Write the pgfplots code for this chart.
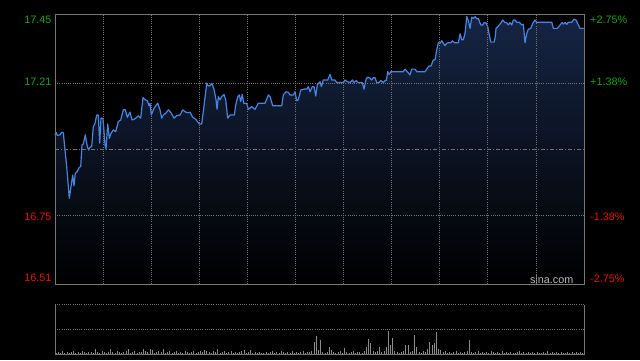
\documentclass[border=0pt]{standalone}
\usepackage{pgfplots}
\pgfplotsset{compat=1.18}
\usepackage{pgfplotstable}
\usepgfplotslibrary{fillbetween}
\usepackage{fontspec}
\setmainfont{Liberation Sans}
\definecolor{bordergray}{RGB}{120,120,120}
\definecolor{gridgray}{RGB}{115,115,115}
\definecolor{lineblue}{RGB}{72,132,228}
\definecolor{filltop}{RGB}{22,37,68}
\definecolor{upgreen}{RGB}{20,165,20}
\definecolor{downred}{RGB}{228,18,10}
\definecolor{volgray}{RGB}{140,140,140}
\definecolor{sinagray}{RGB}{185,185,185}

\pgfplotstableread{
m p
0 17.030
0.46 17.039
1.05 17.028
2.29 17.030
3.07 17.039
3.80 17.038
4.58 16.977
5.35 16.919
6.54 16.809
7.32 16.849
8.10 16.890
8.69 16.852
9.29 16.896
10.20 16.902
11.12 16.917
11.76 16.919
12.35 16.995
12.95 16.998
13.86 17.030
14.78 16.989
15.42 16.977
16.01 16.987
16.79 16.989
17.52 17.058
18.30 17.070
19.08 17.099
19.81 17.099
20.45 17.001
21.05 17.088
21.96 17.088
22.88 16.995
23.33 16.980
24.11 17.068
24.84 17.018
25.62 17.035
26.67 17.047
27.77 17.041
28.96 17.076
30.06 17.082
31.25 17.117
32.16 17.117
33.08 17.091
34.31 17.109
35.23 17.082
36.14 17.084
37.06 17.089
38.11 17.096
39.21 17.088
40.26 17.160
41.31 17.152
42.23 17.149
43.01 17.131
43.47 17.140
44.06 17.099
44.98 17.117
45.75 17.128
46.99 17.140
48.04 17.117
48.82 17.088
49.55 17.099
50.65 17.105
51.84 17.117
53.07 17.107
54.45 17.088
55.68 17.097
57.19 17.099
58.43 17.117
59.80 17.109
60.99 17.107
61.77 17.109
62.82 17.093
64.37 17.084
66.02 17.068
67.12 17.068
68.31 17.140
69.41 17.210
70.13 17.200
70.91 17.201
71.69 17.210
72.75 17.189
73.66 17.152
74.12 17.119
74.71 17.163
75.49 17.152
76.27 17.163
77.32 17.171
78.10 17.152
79.01 17.088
80.07 17.099
82.04 17.099
82.68 17.134
83.59 17.163
84.32 17.169
84.96 17.146
85.69 17.171
86.33 17.140
87.70 17.140
88.44 17.119
89.99 17.128
91.50 17.119
93.01 17.140
95.30 17.140
96.08 17.140
97.59 17.169
98.37 17.163
99.60 17.131
103.72 17.131
104.45 17.169
105.69 17.180
106.74 17.178
107.52 17.169
109.03 17.169
109.80 17.180
110.58 17.149
111.31 17.152
112.41 17.186
114.38 17.190
115.16 17.189
115.89 17.198
116.67 17.180
117.72 17.198
118.50 17.198
119.27 17.165
120.01 17.204
121.24 17.215
121.84 17.198
122.75 17.221
124.77 17.221
125.82 17.241
126.60 17.221
128.10 17.221
128.88 17.212
131.90 17.212
132.68 17.221
133.73 17.215
134.96 17.212
136.02 17.221
136.79 17.212
137.71 17.219
138.76 17.212
140.59 17.212
141.37 17.189
142.29 17.224
143.06 17.231
144.12 17.227
144.89 17.221
145.62 17.229
146.40 17.229
147.18 17.212
148.23 17.212
149.01 17.219
150.20 17.212
150.97 17.219
151.57 17.219
152.21 17.250
152.81 17.241
153.72 17.250
157.06 17.250
159.35 17.250
160.13 17.259
161.36 17.248
162.42 17.239
163.19 17.259
164.70 17.259
165.48 17.250
169.28 17.250
170.06 17.259
171.11 17.270
172.02 17.270
173.07 17.291
173.85 17.291
174.63 17.326
175.36 17.351
176.14 17.349
176.92 17.358
177.65 17.349
178.43 17.341
179.21 17.349
179.94 17.351
181.17 17.351
181.77 17.358
182.69 17.351
184.52 17.351
185.29 17.382
186.07 17.361
186.80 17.361
187.58 17.384
188.36 17.442
189.09 17.428
189.87 17.401
190.64 17.440
191.37 17.436
192.15 17.442
192.93 17.434
193.66 17.436
194.76 17.413
195.68 17.413
196.41 17.422
197.19 17.419
197.96 17.407
198.70 17.378
199.34 17.353
200.85 17.353
201.30 17.367
201.76 17.401
202.81 17.409
203.91 17.419
204.82 17.430
205.87 17.421
206.65 17.421
207.38 17.413
208.16 17.421
208.94 17.413
209.67 17.430
210.45 17.430
211.23 17.422
212.42 17.422
213.52 17.413
214.25 17.415
215.03 17.351
215.81 17.384
216.54 17.398
217.64 17.401
218.56 17.419
219.61 17.430
220.39 17.422
221.58 17.422
227.25 17.422
227.98 17.401
229.81 17.401
231.05 17.413
231.96 17.421
232.56 17.416
233.34 17.422
234.11 17.415
234.84 17.422
236.40 17.422
237.45 17.433
238.37 17.430
239.42 17.413
240.19 17.401
242 17.401
}\pricetab

\pgfplotstableread[row sep=\\]{
v\\
1\\2\\1\\3\\1\\2\\1\\2\\3\\1\\2\\1\\3\\2\\1\\2\\2\\1\\5\\2\\
1\\3\\2\\1\\2\\5\\2\\1\\3\\2\\1\\2\\3\\5\\1\\2\\3\\1\\2\\2\\
5\\3\\2\\5\\4\\1\\2\\3\\2\\5\\1\\2\\3\\1\\2\\3\\1\\2\\1\\3\\
2\\1\\2\\3\\1\\2\\3\\2\\4\\3\\2\\1\\3\\2\\5\\1\\2\\3\\1\\2\\
3\\1\\2\\1\\2\\3\\4\\1\\2\\4\\1\\2\\1\\2\\1\\1\\2\\1\\2\\3\\
1\\2\\1\\3\\2\\1\\2\\1\\3\\1\\2\\1\\2\\3\\1\\2\\2\\3\\12\\18\\
4\\14\\2\\1\\2\\7\\4\\2\\1\\2\\3\\1\\6\\2\\1\\2\\3\\1\\2\\2\\
1\\3\\7\\15\\11\\3\\2\\3\\7\\2\\3\\7\\23\\9\\16\\3\\2\\1\\2\\3\\
9\\9\\2\\3\\19\\7\\2\\1\\3\\2\\5\\12\\9\\11\\22\\5\\4\\2\\3\\1\\
2\\1\\2\\3\\1\\2\\1\\2\\3\\14\\2\\1\\2\\3\\1\\2\\1\\2\\1\\3\\
2\\1\\2\\1\\3\\1\\2\\1\\2\\1\\1\\2\\3\\1\\2\\1\\2\\1\\2\\1\\
2\\1\\1\\2\\1\\3\\1\\2\\1\\2\\1\\2\\1\\1\\2\\1\\2\\1\\2\\1\\
2\\1\\
}\voltab

\begin{document}
\begin{tikzpicture}[x=1bp,y=1bp,font=\fontsize{10.8bp}{12bp}\selectfont]
\fill[black] (0,0) rectangle (640,360);

\begin{axis}[
  at={(55bp,76bp)}, anchor=south west,
  scale only axis, width=529bp, height=269.7bp,
  xmin=0, xmax=242, ymin=16.51, ymax=17.45,
  axis line style={draw=bordergray, line width=1bp},
  xtick={22,44,...,220}, ytick={16.75,17.21},
  xticklabels={}, yticklabels={},
  major tick length=0pt,
  tick style={draw=none},
  grid=major,
  major grid style={draw=gridgray, line width=0.8bp, dash pattern=on 1bp off 1.2bp},
  extra y ticks={16.98}, extra y tick labels={},
  extra y tick style={grid=major, major grid style={draw=gridgray, line width=0.8bp, dash pattern=on 4bp off 2bp on 1bp off 2bp}},
  axis on top,
  clip=false,
]
\path[top color=filltop, bottom color=black] (axis cs:0,16.51) rectangle (axis cs:242,17.45);
\addplot[name path=price, draw=none] table[x=m,y=p]{\pricetab};
\path[name path=topline] (axis cs:0,17.45) -- (axis cs:242,17.45);
\addplot[fill=black, draw=none] fill between[of=price and topline, on layer=main];
\addplot[draw=lineblue, line width=1.2bp, line join=round] table[x=m,y=p]{\pricetab};
\end{axis}

\begin{axis}[
  at={(55bp,5.7bp)}, anchor=south west,
  scale only axis, width=529bp, height=49.6bp,
  xmin=0, xmax=242, ymin=0, ymax=50,
  hide axis, clip=false,
]
\addplot[ycomb, draw=volgray, line width=0.9bp] table[x expr=\coordindex+0.5, y=v]{\voltab};
\draw[gridgray, line width=0.8bp, dash pattern=on 1bp off 1.2bp] (rel axis cs:0,1) -- (rel axis cs:1,1);
\draw[gridgray, line width=0.8bp, dash pattern=on 1bp off 1.2bp] (rel axis cs:0,0.5) -- (rel axis cs:1,0.5);
\draw[bordergray, line width=1bp] (rel axis cs:0,1) -- (rel axis cs:0,0) -- (rel axis cs:1,0) -- (rel axis cs:1,1);
\end{axis}

\node[anchor=east, inner sep=0, text=upgreen] at (51.5,340) {17.45};
\node[anchor=east, inner sep=0, text=upgreen] at (51.5,278) {17.21};
\node[anchor=east, inner sep=0, text=downred] at (51.5,143) {16.75};
\node[anchor=east, inner sep=0, text=downred] at (51.5,82) {16.51};
\node[anchor=west, inner sep=0, text=upgreen] at (590,340) {+2.75\%};
\node[anchor=west, inner sep=0, text=upgreen] at (590,278) {+1.38\%};
\node[anchor=west, inner sep=0, text=downred] at (590,143.3) {-1.38\%};
\node[anchor=west, inner sep=0, text=downred] at (590,81.3) {-2.75\%};
\node[anchor=east, inner sep=0, text=sinagray] at (573.5,80.7) {sina.com};
\end{tikzpicture}
\end{document}
